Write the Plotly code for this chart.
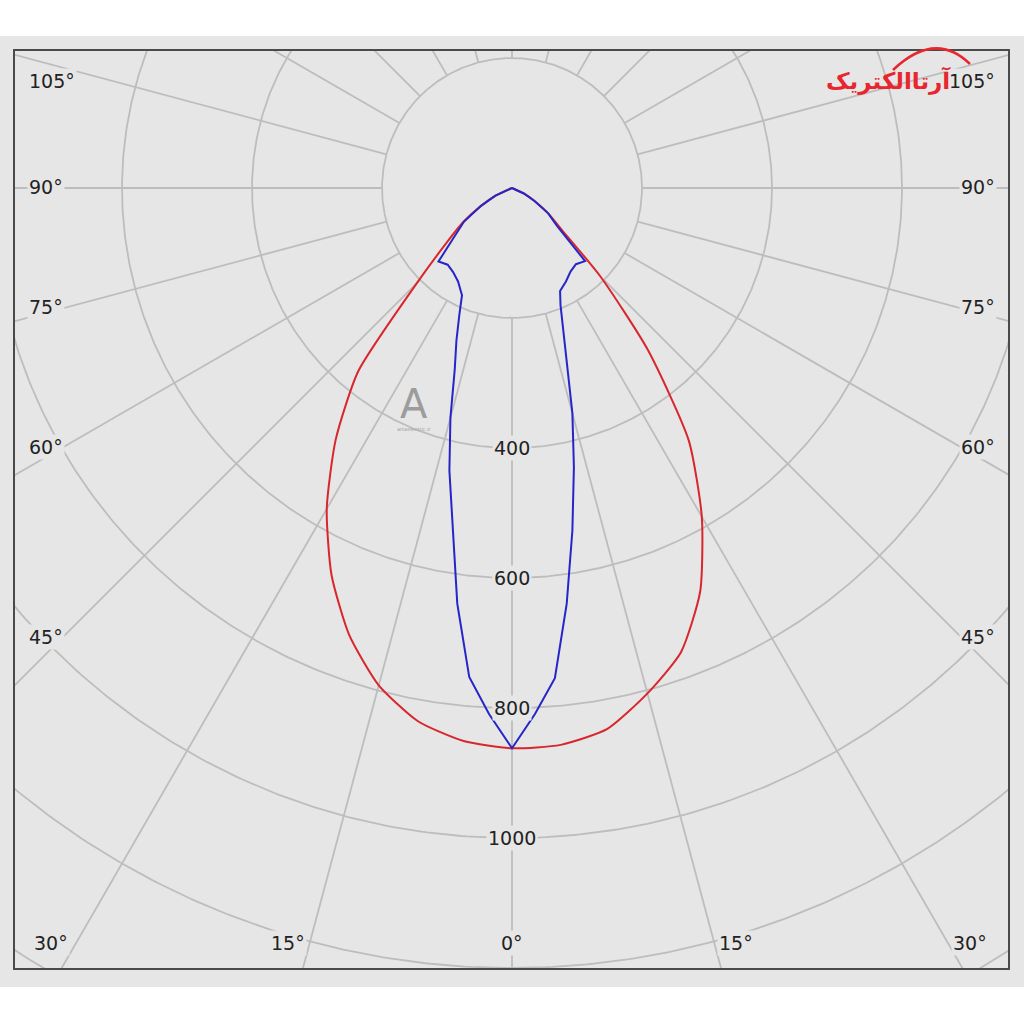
import numpy as np
import plotly.graph_objects as go

# ---------------- data (candela values) ----------------
red_angles = [0, 5, 10, 15, 20, 25, 30, 35, 40, 45, 50, 55, 60, 65, 70, 90]
red_left = [862, 854, 833, 792, 732, 657, 570, 473, 368, 207, 132, 92, 55, 28, 0, 0]
red_right = [862, 860, 845, 805, 760, 685, 584, 474, 325, 192, 100, 68, 40, 20, 0, 0]

blue_angles = [0, 2.5, 5, 7.5, 10, 12.5, 15, 17.5, 20, 22.5, 25, 30, 35, 40, 45,
               50, 55, 60, 65, 70, 90]
blue_left = [862, 810, 755, 645, 526, 445, 366, 293, 250, 212, 182, 166, 158, 154,
             160, 115, 90, 55, 28, 0, 0]
blue_right = [862, 810, 757, 645, 535, 440, 359, 281, 228, 195, 175, 166, 157, 153,
              159, 90, 68, 40, 20, 0, 0]

circle_values = [200, 400, 600, 800, 1000, 1200, 1400]
circle_labels = [400, 600, 800, 1000]
spoke_angles = list(range(0, 360, 15))
spoke_start = 200

left_angle_labels = ["105°", "90°", "75°", "60°", "45°"]
right_angle_labels = ["105°", "90°", "75°", "60°", "45°"]
bottom_angle_labels = ["30°", "15°", "0°", "15°", "30°"]

# ---------------- layout constants ----------------
W, H = 1024, 1024
ML, MR, MT, MB = 15, 16, 51, 56
CX, CY = 512, 188          # pixel position of the diagram centre
SCALE = 0.65               # pixels per candela
PW, PH = W - ML - MR, H - MT - MB

BG = "#e6e6e6"
GRID = "#bdbdbd"
RED = "#d8262c"
BLUE = "#2626c8"
TXT = "#222222"
FONT = "DejaVu Sans"


def to_xy(angles, values, side):
    a = np.radians(np.asarray(angles, dtype=float))
    v = np.asarray(values, dtype=float)
    return side * v * np.sin(a), -v * np.cos(a)


def curve(angles, left, right):
    xl, yl = to_xy(angles, left, -1)
    xr, yr = to_xy(angles, right, 1)
    x = np.concatenate([xl[::-1], xr[1:]])
    y = np.concatenate([yl[::-1], yr[1:]])
    return x, y


def px_paper(xp, yp):
    return (xp - ML) / PW, 1 - (yp - MT) / PH


fig = go.Figure()

# grid circles
t = np.linspace(0, 2 * np.pi, 721)
for r in circle_values:
    fig.add_trace(go.Scatter(x=r * np.cos(t), y=r * np.sin(t), mode="lines",
                             line=dict(color=GRID, width=1.8),
                             hoverinfo="skip", showlegend=False))
# spokes
for ang in spoke_angles:
    xs, ys = to_xy([ang, ang], [spoke_start, 2500], 1)
    fig.add_trace(go.Scatter(x=xs, y=ys, mode="lines",
                             line=dict(color=GRID, width=1.8),
                             hoverinfo="skip", showlegend=False))

# photometric curves
rx, ry = curve(red_angles, red_left, red_right)
fig.add_trace(go.Scatter(x=rx, y=ry, mode="lines", name="C0 - C180",
                         line=dict(color=RED, width=2, shape="spline", smoothing=0.6),
                         showlegend=False))
bx, by = curve(blue_angles, blue_left, blue_right)
fig.add_trace(go.Scatter(x=bx, y=by, mode="lines", name="C90 - C270",
                         line=dict(color=BLUE, width=2), showlegend=False))

annotations = []
# radial value labels
for v in circle_labels:
    annotations.append(dict(x=0, y=-v, xref="x", yref="y", text=str(v),
                            xanchor="center", yanchor="middle",
                            showarrow=False, font=dict(family=FONT, size=19, color=TXT),
                            bgcolor=BG, borderpad=1))

# angle labels
left_y = [81, 187, 307, 447, 637]
for lab, yp in zip(left_angle_labels, left_y):
    x, y = px_paper(27, yp)
    annotations.append(dict(x=x, y=y, xref="paper", yref="paper", text=lab,
                            xanchor="left", yanchor="middle", showarrow=False,
                            font=dict(family=FONT, size=19, color=TXT),
                            bgcolor=BG, borderpad=1))
for lab, yp in zip(right_angle_labels, left_y):
    x, y = px_paper(997, yp)
    annotations.append(dict(x=x, y=y, xref="paper", yref="paper", text=lab,
                            xanchor="right", yanchor="middle", showarrow=False,
                            font=dict(family=FONT, size=19, color=TXT),
                            bgcolor=BG, borderpad=1))
bottom_x = [51, 288, 512, 736, 970]
for lab, xp in zip(bottom_angle_labels, bottom_x):
    x, y = px_paper(xp, 943)
    annotations.append(dict(x=x, y=y, xref="paper", yref="paper", text=lab,
                            xanchor="center", yanchor="middle", showarrow=False,
                            font=dict(family=FONT, size=19, color=TXT),
                            bgcolor=BG, borderpad=1))

# logo (top right) and watermark
lx, ly = px_paper(953, 80)
annotations.append(dict(x=lx, y=ly, xref="paper", yref="paper",
                        text="<b>آرتاالکتریک</b>", showarrow=False,
                        xanchor="right", yanchor="middle",
                        font=dict(family="DejaVu Sans", size=23, color="#e8262e")))
wx, wy = px_paper(414, 404)
annotations.append(dict(x=wx, y=wy, xref="paper", yref="paper", text="A",
                        xanchor="center", yanchor="middle",
                        showarrow=False, font=dict(family=FONT, size=40, color="#9c9c9c")))
sx, sy = px_paper(414, 429)
annotations.append(dict(x=sx, y=sy, xref="paper", yref="paper", text="artaelectric.ir",
                        xanchor="center", yanchor="middle",
                        showarrow=False, font=dict(family=FONT, size=5, color="#9c9c9c")))

shapes = []
# grey band behind the diagram
x0, y0 = px_paper(0, 36)
x1, y1 = px_paper(W, 987)
shapes.append(dict(type="rect", xref="paper", yref="paper", x0=x0, y0=y1, x1=x1, y1=y0,
                   fillcolor=BG, line=dict(width=0), layer="below"))
# logo swoosh
p1 = px_paper(893, 70)
pc = px_paper(935, 30)
p2 = px_paper(970, 64)
shapes.append(dict(type="path", xref="paper", yref="paper",
                   path=f"M {p1[0]},{p1[1]} Q {pc[0]},{pc[1]} {p2[0]},{p2[1]}",
                   line=dict(color="#e8262e", width=2.5)))

xr = [(ML - CX) / SCALE, (W - MR - CX) / SCALE]
yr = [-(H - MB - CY) / SCALE, (CY - MT) / SCALE]

fig.update_layout(
    width=W, height=H,
    margin=dict(l=ML, r=MR, t=MT, b=MB, pad=0),
    paper_bgcolor="white", plot_bgcolor=BG,
    xaxis=dict(range=xr, showgrid=False, zeroline=False, showticklabels=False,
               ticks="", showline=True, mirror=True, linecolor="#4a4a4a", linewidth=2,
               fixedrange=True),
    yaxis=dict(range=yr, showgrid=False, zeroline=False, showticklabels=False,
               ticks="", showline=True, mirror=True, linecolor="#4a4a4a", linewidth=2,
               fixedrange=True),
    annotations=annotations, shapes=shapes, showlegend=False,
)

fig.write_html(
    "out.html",
    config={"displayModeBar": False},
    post_script="document.body.style.margin='0';"
                "document.documentElement.style.overflow='hidden';",
)
